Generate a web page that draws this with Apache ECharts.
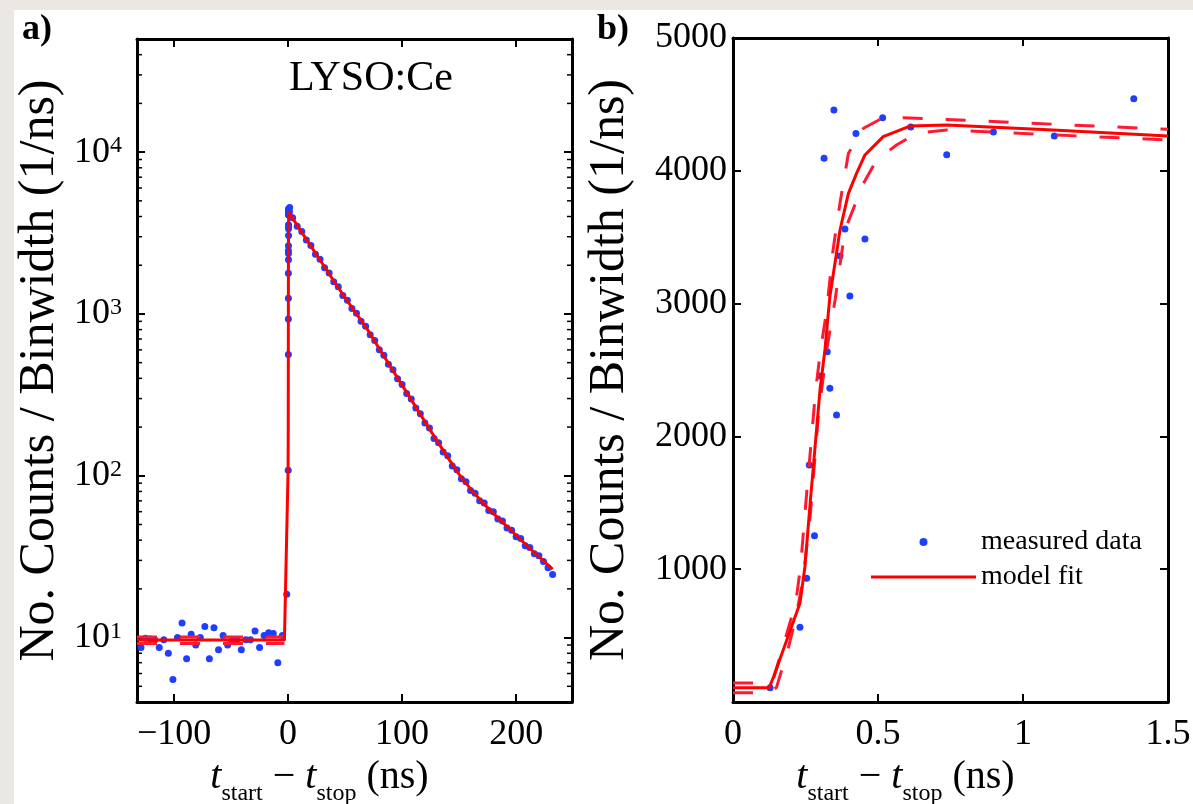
<!DOCTYPE html>
<html><head><meta charset="utf-8">
<script src="https://cdn.jsdelivr.net/npm/echarts@6/dist/echarts.min.js"></script>
<style>html,body{margin:0;padding:0;background:#ebe8e4;} #c{width:1193px;height:804px;}</style>
</head><body><div id="c"></div>
<script>
// ---------- DATA ----------
// panel a: baseline (pre-trigger) bins
const preT = [-129,-125,-121,-117,-113,-109,-105,-101,-97,-93,-89,-85,-81,-77,-73,-69,-65,-61,-57,-53,-49,-45,-41,-37,-33,-29,-25,-21,-17,-13,-9,-5,-1.2];
const preV = [8.7,9.9,9.8,9.7,8.7,9.7,8.0,5.5,10.0,12.3,7.4,10.5,9.0,10.0,11.7,7.4,11.5,8.4,10.3,9.0,9.6,9.7,8.4,9.7,9.7,11.0,8.7,10.3,10.7,10.6,7.0,10.3,18.5];
// fine bins around the rise (panel b, also in panel a)
const fineT = [0.128,0.231,0.254,0.263,0.281,0.300,0.314,0.325,0.334,0.348,0.357,0.369,0.386,0.403,0.424,0.455,0.516,0.613,0.737,0.898,1.108,1.382];
const fineV = [108,562,931,1785,1252,2455,4094,2638,2362,4458,2161,3358,3562,3057,4280,3486,4400,4330,4121,4292,4262,4543];
// decay bins (panel a)
const decayT = [4,8,12,16,20,24,28,32,36,40,44,48,52,56,60,64,68,72,76,80,84,88,92,96,100,104,108,112,116,120,124,128,132,136,140,144,148,152,156,160,164,168,172,176,180,184,188,192,196,200,204,208,212,216,220,224,228,232];
const decayV = [3930,3480,3230,2860,2650,2340,2180,1930,1790,1580,1470,1300,1215,1080,1010,900,840,745,685,600,556,488,452,398,366,322,298,262,242,212,197,170,160,140,133,115,109,96,92,81,78,70,68,61,60,54,52.5,47.5,46,42,41,37,36,33,32,29.5,27,24.5];
// model fit, panel a
const fitAT = [-132.5,-3.2,0,0.14,0.3,0.5,1.5,10,20,30,40,50,60,70,80,90,100,110,120,130,140,150,160,170,180,190,200,210,220,232];
const fitAV = [9.65,9.65,108,190,2349,4257,4262,3357,2624,2051,1603,1259,1000,794,610,470,363,280,216,167,130,102,83,69,58.6,50.1,42.9,36.7,31.6,26.5];
const upAT = [-132.5,-3.2];
const upAV = [10.1,10.1];
const loAT = [-132.5,-3.2];
const loAV = [9.2,9.2];
// model fit, panel b
const fitBT = [0,0.125,0.14,0.231,0.248,0.266,0.283,0.300,0.317,0.334,0.369,0.398,0.426,0.455,0.518,0.610,0.737,1.103,1.5];
const fitBV = [108,108,190,743,1019,1496,1922,2349,2651,3052,3554,3830,3981,4119,4257,4337,4345,4307,4262];
const upBT = [0,0.125,0.139,0.216,0.233,0.251,0.268,0.285,0.302,0.323,0.345,0.369,0.398,0.45,0.507,0.586,0.737,1.5];
const upBV = [143,143,170,743,1019,1496,1922,2349,2651,2950,3404,3758,4132,4320,4387,4400,4387,4312];
const loBT = [0,0.125,0.15,0.19,0.215,0.24,0.266,0.294,0.323,0.352,0.386,0.45,0.495,0.564,0.633,0.737,1.5];
const loBV = [70,70,110,400,620,900,1395,2148,2651,3027,3554,3906,4081,4194,4282,4307,4232];
// log-axis minor tick values (panel a)
const minorTicksA = [5,6,7,8,9,20,30,40,50,60,70,80,90,200,300,400,500,600,700,800,900,2000,3000,4000,5000,6000,7000,8000,9000,20000,30000,40000];

// ---------- CHART ----------
const FONT = '"Liberation Serif", "Times New Roman", serif';
const BLUE = '#1f3fff';
const RED = '#ff0000';
const DRED = '#ff1a33';
const pairs = (t, v) => t.map((x, i) => [x, v[i]]);

const chart = echarts.init(document.getElementById('c'), null, {renderer: 'canvas'});

const axisLine = {show: true, onZero: false, lineStyle: {color: '#000', width: 3}};
const tick = {show: true, inside: true, length: 8, lineStyle: {color: '#000', width: 2}};
const lbl = {fontFamily: FONT, fontSize: 36, color: '#000'};
const xName = '{i|t}{s|start}{m| − }{i|t}{s|stop}{m| (ns)}';
const mkXNameStyle = padR => ({
  fontFamily: FONT, fontSize: 40, color: '#000', padding: [0, padR, 0, 0],
  rich: {
    i: {fontFamily: FONT, fontSize: 40, fontStyle: 'italic', color: '#000', lineHeight: 56},
    s: {fontFamily: FONT, fontSize: 24, color: '#000', lineHeight: 12, verticalAlign: 'bottom'},
    m: {fontFamily: FONT, fontSize: 40, color: '#000', lineHeight: 56}
  }
});
const yNameText = 'No. Counts / Binwidth (1/ns)';
const yNameStyle = {fontFamily: FONT, fontSize: 50, color: '#000'};

const option = {
  animation: false,
  backgroundColor: '#ebe8e4',
  graphic: [
    {type: 'rect', z: -10, silent: true, shape: {x: 14, y: 10, width: 1179, height: 794}, style: {fill: '#ffffff'}},
    {type: 'text', z: 10, left: 289, top: 58, style: {text: 'LYSO:Ce', font: '42px ' + FONT, fill: '#000'}},
    {type: 'text', z: 10, left: 22, top: 12, style: {text: 'a)', font: 'bold 36px ' + FONT, fill: '#000'}},
    {type: 'text', z: 10, left: 597, top: 12, style: {text: 'b)', font: 'bold 36px ' + FONT, fill: '#000'}}
  ],
  legend: {
    orient: 'vertical', left: 866, top: 521, itemWidth: 105, itemHeight: 8, itemGap: 3,
    selectedMode: false,
    data: [
      {name: 'measured data', icon: 'circle'},
      {name: 'model fit', icon: 'path://M0,0 L105,0 L105,3 L0,3 Z'}
    ],
    textStyle: {fontFamily: FONT, fontSize: 28, color: '#000', lineHeight: 32}
  },
  grid: [
    {left: 137, top: 39, width: 435, height: 663, outerBoundsMode: 'none', containLabel: false},
    {left: 733, top: 38, width: 435, height: 664, outerBoundsMode: 'none', containLabel: false}
  ],
  xAxis: [
    {gridIndex: 0, type: 'value', position: 'bottom', min: -132.5, max: 249,
     axisLine, axisTick: tick, splitLine: {show: false},
     axisLabel: Object.assign({}, lbl, {margin: 15, showMinLabel: false, showMaxLabel: false,
       formatter: v => v < 0 ? '\u2212' + Math.abs(v) : String(v)}),
     name: xName, nameLocation: 'middle', nameGap: 46, nameTextStyle: mkXNameStyle(70)},
    {gridIndex: 0, type: 'value', position: 'top', min: -132.5, max: 249,
     axisLine, axisTick: tick, splitLine: {show: false}, axisLabel: {show: false}},
    {gridIndex: 1, type: 'value', position: 'bottom', min: 0, max: 1.5, interval: 0.5,
     axisLine, axisTick: tick, splitLine: {show: false},
     axisLabel: Object.assign({}, lbl, {margin: 15, formatter: v => String(v)}),
     name: xName, nameLocation: 'middle', nameGap: 46, nameTextStyle: mkXNameStyle(90)},
    {gridIndex: 1, type: 'value', position: 'top', min: 0, max: 1.5, interval: 0.5,
     axisLine, axisTick: tick, splitLine: {show: false}, axisLabel: {show: false}}
  ],
  yAxis: [
    {gridIndex: 0, type: 'log', logBase: 10, position: 'left', min: 4, max: 50000,
     axisLine, axisTick: tick, splitLine: {show: false}, minorTick: {show: false},
     axisLabel: Object.assign({}, lbl, {margin: 15, showMinLabel: false, showMaxLabel: false,
       formatter: v => '10{sup|' + Math.round(Math.log10(v)) + '}',
       rich: {sup: {fontFamily: FONT, fontSize: 24, color: '#000', verticalAlign: 'top', lineHeight: 20}}}),
     name: yNameText, nameLocation: 'middle', nameGap: 72, nameTextStyle: yNameStyle},
    {gridIndex: 0, type: 'log', logBase: 10, position: 'right', min: 4, max: 50000,
     axisLine, axisTick: tick, splitLine: {show: false}, axisLabel: {show: false}},
    {gridIndex: 1, type: 'value', position: 'left', min: 0, max: 5000, interval: 1000,
     axisLine, axisTick: tick, splitLine: {show: false},
     axisLabel: Object.assign({}, lbl, {margin: 6, showMinLabel: false, formatter: v => String(v)}),
     name: yNameText, nameLocation: 'middle', nameGap: 98, nameTextStyle: yNameStyle},
    {gridIndex: 1, type: 'value', position: 'right', min: 0, max: 5000, interval: 1000,
     axisLine, axisTick: tick, splitLine: {show: false}, axisLabel: {show: false}}
  ],
  series: [
    {name: 'data a', type: 'scatter', xAxisIndex: 0, yAxisIndex: 0, symbolSize: 7,
     itemStyle: {color: BLUE, opacity: 1},
     data: pairs(preT, preV).concat(pairs(fineT, fineV), pairs(decayT, decayV))},
    {name: 'bound a up', type: 'line', xAxisIndex: 0, yAxisIndex: 0, symbol: 'none',
     lineStyle: {color: DRED, width: 3, type: [20, 23]}, data: pairs(upAT, upAV)},
    {name: 'bound a lo', type: 'line', xAxisIndex: 0, yAxisIndex: 0, symbol: 'none',
     lineStyle: {color: DRED, width: 3, type: [20, 23]}, data: pairs(loAT, loAV)},
    {name: 'fit a', type: 'line', xAxisIndex: 0, yAxisIndex: 0, symbol: 'none',
     lineStyle: {color: RED, width: 3}, data: pairs(fitAT, fitAV)},
    {name: 'minor ticks a', type: 'custom', xAxisIndex: 0, yAxisIndex: 0, silent: true,
     data: minorTicksA.map(v => [0, v]),
     renderItem: (params, api) => {
       const y = api.coord([0, api.value(1)])[1];
       const cs = params.coordSys;
       const st = {stroke: '#000', lineWidth: 1.5};
       return {type: 'group', children: [
         {type: 'line', shape: {x1: cs.x, y1: y, x2: cs.x + 5, y2: y}, style: st},
         {type: 'line', shape: {x1: cs.x + cs.width - 5, y1: y, x2: cs.x + cs.width, y2: y}, style: st}
       ]};
     }},
    {name: 'measured data', type: 'scatter', xAxisIndex: 2, yAxisIndex: 2, symbolSize: 7,
     itemStyle: {color: BLUE, opacity: 1}, data: pairs(fineT, fineV)},
    {name: 'bound b up', type: 'line', xAxisIndex: 2, yAxisIndex: 2, symbol: 'none',
     lineStyle: {color: DRED, width: 3, type: [20, 23]}, data: pairs(upBT, upBV)},
    {name: 'bound b lo', type: 'line', xAxisIndex: 2, yAxisIndex: 2, symbol: 'none',
     lineStyle: {color: DRED, width: 3, type: [20, 23]}, data: pairs(loBT, loBV)},
    {name: 'model fit', type: 'line', xAxisIndex: 2, yAxisIndex: 2, symbol: 'none',
     itemStyle: {color: RED},
     lineStyle: {color: RED, width: 3}, data: pairs(fitBT, fitBV)}
  ]
};
chart.setOption(option);
</script></body></html>
